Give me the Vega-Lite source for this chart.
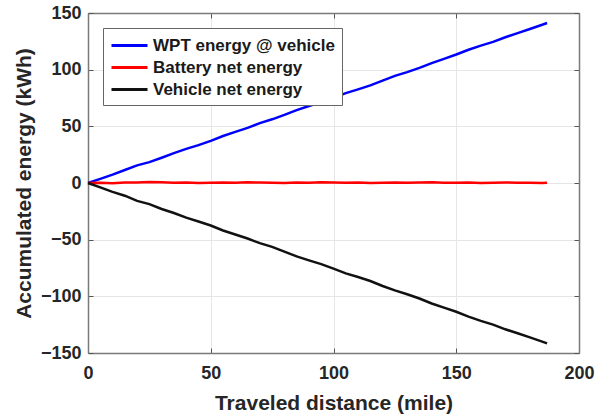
{
  "$schema": "https://vega.github.io/schema/vega-lite/v6.json",
  "width": 491,
  "height": 340,
  "autosize": {"type": "none"},
  "padding": {"left": 88, "top": 13, "right": 29, "bottom": 66},
  "background": "white",
  "config": {"view": {"stroke": null}, "font": "Liberation Sans"},
  "data": {"values": [
    {"d": 0, "w": 0, "b": 0, "v": 0},
    {"d": 5, "w": 3.6, "b": 0.3, "v": -3.9},
    {"d": 10, "w": 7.4, "b": -0.2, "v": -7.8},
    {"d": 15, "w": 11.5, "b": 0.5, "v": -11.2},
    {"d": 20, "w": 15.6, "b": 0.4, "v": -15.8},
    {"d": 25, "w": 18.4, "b": 0.9, "v": -18.6},
    {"d": 30, "w": 22.3, "b": 0.6, "v": -22.9},
    {"d": 35, "w": 26.4, "b": 0.2, "v": -26.5},
    {"d": 40, "w": 30.1, "b": 0.4, "v": -30.6},
    {"d": 45, "w": 33.4, "b": 0.1, "v": -34.0},
    {"d": 50, "w": 37.2, "b": 0.3, "v": -37.5},
    {"d": 55, "w": 41.5, "b": 0.5, "v": -41.9},
    {"d": 60, "w": 45.1, "b": 0.2, "v": -45.4},
    {"d": 65, "w": 48.6, "b": 0.6, "v": -49.0},
    {"d": 70, "w": 52.8, "b": 0.4, "v": -53.1},
    {"d": 75, "w": 56.2, "b": 0.2, "v": -56.4},
    {"d": 80, "w": 60.1, "b": 0.1, "v": -60.5},
    {"d": 85, "w": 64.3, "b": 0.5, "v": -64.8},
    {"d": 90, "w": 67.9, "b": 0.3, "v": -68.3},
    {"d": 95, "w": 71.4, "b": 0.7, "v": -71.6},
    {"d": 100, "w": 75.2, "b": 0.5, "v": -75.6},
    {"d": 105, "w": 79.3, "b": 0.2, "v": -79.8},
    {"d": 110, "w": 82.6, "b": 0.4, "v": -83.0},
    {"d": 115, "w": 86.1, "b": 0.1, "v": -86.5},
    {"d": 120, "w": 90.4, "b": 0.3, "v": -90.9},
    {"d": 125, "w": 94.5, "b": 0.5, "v": -94.7},
    {"d": 130, "w": 97.8, "b": 0.2, "v": -98.2},
    {"d": 135, "w": 101.6, "b": 0.4, "v": -101.9},
    {"d": 140, "w": 105.8, "b": 0.6, "v": -106.3},
    {"d": 145, "w": 109.5, "b": 0.3, "v": -110.0},
    {"d": 150, "w": 113.4, "b": 0.2, "v": -113.6},
    {"d": 155, "w": 117.6, "b": 0.4, "v": -117.9},
    {"d": 160, "w": 121.2, "b": 0.1, "v": -121.7},
    {"d": 165, "w": 124.5, "b": 0.3, "v": -125.0},
    {"d": 170, "w": 128.6, "b": 0.5, "v": -129.1},
    {"d": 175, "w": 132.3, "b": 0.2, "v": -132.6},
    {"d": 180, "w": 135.9, "b": 0.3, "v": -136.2},
    {"d": 185, "w": 139.6, "b": 0.1, "v": -140.0},
    {"d": 187, "w": 141.2, "b": 0.2, "v": -141.5}
  ]},
  "transform": [{"fold": ["w", "b", "v"], "as": ["series", "energy"]}],
  "layer": [
    {
      "mark": {"type": "line", "opacity": 0},
      "encoding": {
        "x": {"field": "d", "type": "quantitative", "scale": {"domain": [0, 200], "nice": false, "zero": false},
          "axis": {"orient": "top", "title": null, "labels": false, "grid": false, "values": [0, 50, 100, 150, 200],
            "tickSize": -5, "tickColor": "#555555", "domainColor": "#7a7a7a", "domainWidth": 1.5}},
        "y": {"field": "energy", "type": "quantitative", "scale": {"domain": [-150, 150], "nice": false},
          "axis": {"orient": "right", "title": null, "labels": false, "grid": false, "values": [-150, -100, -50, 0, 50, 100, 150],
            "tickSize": -5, "tickColor": "#555555", "domainColor": "#7a7a7a", "domainWidth": 1.5}},
        "detail": {"field": "series"}
      }
    },
    {
      "mark": {"type": "line", "strokeWidth": 2.5},
      "encoding": {
        "x": {"field": "d", "type": "quantitative", "scale": {"domain": [0, 200], "nice": false, "zero": false},
          "axis": {"orient": "bottom", "title": "Traveled distance (mile)", "values": [0, 50, 100, 150, 200],
            "grid": true, "gridColor": "#e6e6e6", "gridWidth": 1, "labelFlush": false,
            "tickSize": -5, "tickColor": "#555555", "domainColor": "#7a7a7a", "domainWidth": 1.5,
            "labelFont": "Liberation Sans", "labelFontWeight": "bold", "labelFontSize": 18, "labelColor": "#262626", "labelPadding": 16,
            "titleFont": "Liberation Sans", "titleFontWeight": "bold", "titleFontSize": 21, "titleColor": "#262626", "titlePadding": 10}},
        "y": {"field": "energy", "type": "quantitative", "scale": {"domain": [-150, 150], "nice": false},
          "axis": {"orient": "left", "title": "Accumulated energy (kWh)", "values": [-150, -100, -50, 0, 50, 100, 150],
            "grid": true, "gridColor": "#e6e6e6", "gridWidth": 1, "labelFlush": false,
            "tickSize": -5, "tickColor": "#555555", "domainColor": "#7a7a7a", "domainWidth": 1.5,
            "labelFont": "Liberation Sans", "labelFontWeight": "bold", "labelFontSize": 18, "labelColor": "#262626", "labelPadding": 12,
            "titleFont": "Liberation Sans", "titleFontWeight": "bold", "titleFontSize": 21, "titleColor": "#262626", "titlePadding": 6}},
        "color": {"field": "series", "type": "nominal",
          "scale": {"domain": ["w", "b", "v"], "range": ["#0000ff", "#ff0000", "#111111"]},
          "legend": {"orient": "none", "legendX": 15, "legendY": 15, "title": null,
            "labelExpr": "datum.value == 'w' ? 'WPT energy @ vehicle' : datum.value == 'b' ? 'Battery net energy' : 'Vehicle net energy'",
            "symbolType": "M-1,0H3", "symbolSize": 324, "symbolStrokeWidth": 3,
            "labelFont": "Liberation Sans", "labelFontWeight": "bold", "labelFontSize": 17, "labelColor": "#1a1a1a",
            "labelOffset": 22, "padding": 7, "rowPadding": 3,
            "strokeColor": "#666666", "fillColor": "white", "labelLimit": 400}}
      }
    }
  ],
  "resolve": {"axis": {"x": "independent", "y": "independent"}}
}
